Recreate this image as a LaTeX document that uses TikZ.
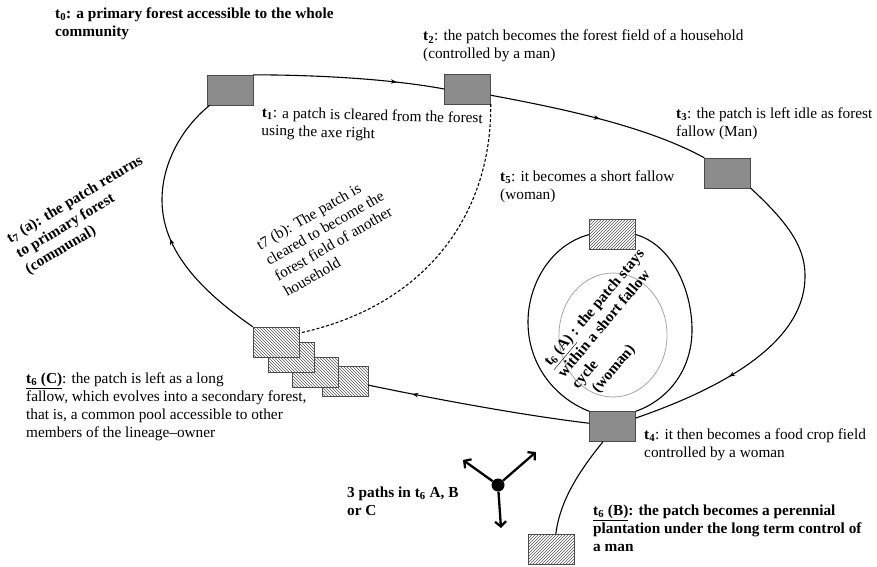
\documentclass[tikz,border=0pt]{standalone}
\usepackage{fontspec}
\setmainfont{Liberation Serif}
\usetikzlibrary{arrows.meta,patterns,decorations.markings}
\newcommand{\notesize}{\fontsize{15.3}{18}\selectfont}

\begin{document}
\begin{tikzpicture}[x=1pt,y=-1pt,>=stealth,
    patch/.style={draw=black!70,fill=black!45,minimum width=46pt,minimum height=30pt,inner sep=0pt},
    fallow/.style={draw=black!70,preaction={fill=white},pattern=north east lines,pattern color=black!65,minimum width=46pt,minimum height=30pt,inner sep=0pt},
    longfallow/.style={fallow,pattern=north west lines},
    track/.style={line width=1.1pt},
    flow/.style={track,postaction={decorate,decoration={markings,mark=at position #1 with {\arrow{Stealth[length=6pt,width=4.5pt]}}}}},
    note/.style={anchor=north west,inner sep=0pt,align=left,font=\notesize},
    boldnote/.style={note,font=\notesize\bfseries}]
\path[use as bounding box] (0,0) rectangle (877,566);

%the patches along the cycle
\node[patch] (t1) at (230,90) {};
\node[patch] (t2) at (467.5,89) {};
\node[patch] (t3) at (727.5,173) {};
\node[patch] (t4) at (612.5,426.5) {};
\node[fallow] (t5) at (612.5,234.5) {};
\node[fallow] (t6b) at (551.5,549) {};
\foreach \n/\x/\y in {4/345/381,3/315/372,2/291.5/357.5,1/276/342}
    \node[longfallow] (c\n) at (\x,\y) {};

%main cycle
\draw[flow=0.75] (t1.north east) .. controls (320,75) and (390,79) .. (t2.west);
\draw[flow=0.5] (t2.-15) .. controls (548,106) and (643,124) .. (t3.north west);
\draw[flow=0.7] (t3.south east) .. controls (785,220) and (805,245) .. (805,275)
    .. controls (806,335) and (740,382) .. (t4.20);
\draw[flow=0.8] (t4.172) .. controls (520,415) and (430,398) .. (c4.-10);
\draw[flow=0.45] (c1.north west) .. controls (200,290) and (162,250) .. (162,200)
    .. controls (162,160) and (185,125) .. (t1.217);
\draw[track,dash pattern=on 3pt off 2pt] (t2.south east) .. controls (492,210) and (430,305) .. (c1.21);

%short fallow cycle
\draw[track] (t5.west) .. controls (550,245) and (528,285) .. (528,322)
    .. controls (528,365) and (555,398) .. (t4.north west);
\draw[track] (t5.east) .. controls (672,245) and (692,290) .. (692,330)
    .. controls (692,370) and (668,400) .. (t4.north east);
\draw[black!35,thick] (613,335) ellipse (54 and 62);

%plantation
\draw[track] (t4.-122) .. controls (580,470) and (560,500) .. (t6b.74);

%three paths
\node[circle,fill=black,inner sep=0pt,minimum size=13pt] (hub) at (498,485) {};
\coordinate (ha) at (463,460);
\coordinate (hb) at (536,452);
\coordinate (hc) at (501,528);
\foreach \e in {ha,hb,hc}
    \draw[line width=2.3pt,-{Straight Barb[length=5pt,width=11pt]}] (hub) -- (\e);

%labels
\node[boldnote] (l0) at (55,7.5) {t\textsubscript{0}: a primary forest accessible to the whole\\community};
\node[note,rotate=-1.5] (l1) at (262,106.5) {\textbf{t\textsubscript{1}}: a patch is cleared from the forest\\using the axe right};
\node[note] (l2) at (423,30) {\textbf{t\textsubscript{2}}: the patch becomes the forest field of a household\\(controlled by a man)};
\node[note] (l3) at (676,107.5) {\textbf{t\textsubscript{3}}: the patch is left idle as forest\\fallow (Man)};
\node[note] (l5) at (500,170.5) {\textbf{t\textsubscript{5}}: it becomes a short fallow\\(woman)};
\node[note] (l4) at (644,428.5) {\textbf{t\textsubscript{4}}: it then becomes a food crop field\\controlled by a woman};
\node[boldnote] (l6b) at (593,504.5) {\underline{t\textsubscript{6} (B)}: the patch becomes a perennial\\plantation under the long term control of\\a man};
\node[note] (l6c) at (26,372.5) {\underline{\textbf{t\textsubscript{6} (C)}}: the patch is left as a long\\fallow, which evolves into a secondary forest,\\that is, a common pool accessible to other\\members of the lineage--owner};
\node[boldnote] (lp) at (347,486.5) {3 paths in t\textsubscript{6} A, B\\or C};
\node[boldnote,rotate=31] (l7a) at (4.6,234) {t\textsubscript{7} (a): the patch returns\\to primary forest\\(communal)};
\node[note,rotate=30] (l7b) at (254.75,240.9) {t7 (b): The patch is\\cleared to become the\\forest field of another\\household};
\node[boldnote,rotate=50] (l6a) at (542,360) {\underline{t\textsubscript{6} (A)} : the patch stays\\within a short fallow\\cycle\\\hspace*{10pt}(woman)};
\end{tikzpicture}
\end{document}
